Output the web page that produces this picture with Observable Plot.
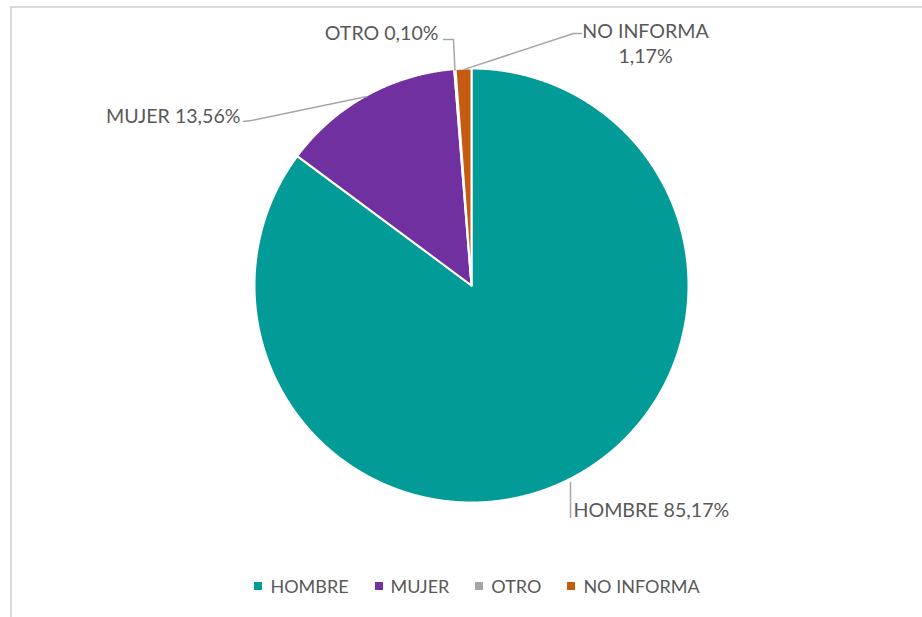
<!DOCTYPE html>
<html>
<head>
<meta charset="utf-8">
<script src="https://cdn.jsdelivr.net/npm/d3@7"></script>
<script src="https://cdn.jsdelivr.net/npm/@observablehq/plot@0.6"></script>
<style>
  html, body { margin: 0; padding: 0; background: #fff; }
  body { position: relative; width: 922px; height: 617px; overflow: hidden; font-family: Lato, "Open Sans", sans-serif; }
  #chart { position: absolute; left: 0; top: 0; }
  .border-top { position: absolute; left: 10px; top: 6px; width: 912px; height: 2px; background: #d9d9d9; z-index: 2; }
  .border-left { position: absolute; left: 10px; top: 6px; width: 2px; height: 611px; background: #d9d9d9; z-index: 2; }
  #legend { position: absolute; left: 0; width: 954px; top: 574px; height: 24px; display: flex; justify-content: center; align-items: center; font-size: 18px; color: #595959; }
  #legend .item { display: flex; align-items: center; margin: 0 13px; white-space: nowrap; }
  #legend .sw { width: 8px; height: 8px; margin-right: 8px; }
</style>
</head>
<body>
<div class="border-top"></div>
<div class="border-left"></div>
<div id="chart"></div>
<div id="legend"></div>
<script>
// ---- data ----
const categories = ["HOMBRE", "MUJER", "OTRO", "NO INFORMA"];
const values = [85.17, 13.56, 0.10, 1.17];
const labels = ["HOMBRE 85,17%", "MUJER 13,56%", "OTRO 0,10%", "NO INFORMA\n1,17%"];
const colors = ["#029b97", "#7030a0", "#a5a5a5", "#c55a11"];

// ---- layout (pixels) ----
const W = 922, H = 565, cx = 471, cy = 285, R = 216;
const ux = px => (px - cx) / R;
const uy = py => (cy - py) / R;

// pie geometry from the values
const arcs = d3.pie().sort(null).value((d, i) => values[i])(categories);
const rOuter = 217 / 216;
const slices = [];
arcs.forEach(a => {
  const cat = a.data;
  slices.push({cat, x: 0, y: 0});
  const n = Math.max(2, Math.ceil((a.endAngle - a.startAngle) / 0.004));
  for (let k = 0; k <= n; k++) {
    const t = a.startAngle + (a.endAngle - a.startAngle) * k / n;
    slices.push({cat, x: rOuter * Math.sin(t), y: rOuter * Math.cos(t)});
  }
  slices.push({cat, x: 0, y: 0});
});

const mid = a => (a.startAngle + a.endAngle) / 2;
const edge = (a, r) => ({x: r * Math.sin(mid(a)), y: r * Math.cos(mid(a))});

// leader line bends and label placement (pixel layout)
const labelLayout = {
  "HOMBRE":     {pts: [[570, 482], [570, 517]], tx: 573, ty: 510, anchor: "start"},
  "MUJER":      {pts: [[251, 120], [243, 121]], tx: 240, ty: 116, anchor: "end", fromEdge: true},
  "OTRO":       {pts: [[453, 39], [443, 39]], tx: 438, ty: 33, anchor: "end", fromEdge: true},
  "NO INFORMA": {pts: [[573, 33], [581, 33]], tx: 645, ty: 42, anchor: "middle", fromEdge: true}
};

const leaders = [];
arcs.forEach(a => {
  const L = labelLayout[a.data];
  if (L.fromEdge) { const e = edge(a, 1.0); leaders.push({cat: a.data, x: e.x, y: e.y}); }
  L.pts.forEach(([px, py]) => leaders.push({cat: a.data, x: ux(px), y: uy(py)}));
});

const labelRows = categories.map((c, i) => ({
  cat: c, text: labels[i],
  x: ux(labelLayout[c].tx), y: uy(labelLayout[c].ty), anchor: labelLayout[c].anchor
}));

const fs = 19.6;
const plot = Plot.plot({
  width: W, height: H,
  marginTop: 0, marginRight: 0, marginBottom: 0, marginLeft: 0,
  style: {background: "transparent", fontFamily: "Lato, 'Open Sans', sans-serif"},
  x: {domain: [ux(0), ux(W)], range: [0, W], axis: null},
  y: {domain: [uy(H), uy(0)], range: [H, 0], axis: null},
  color: {domain: categories, range: colors},
  marks: [
    Plot.line(slices, {x: "x", y: "y", z: "cat", fill: "cat", stroke: "white", strokeWidth: 2, strokeLinejoin: "round", curve: "linear"}),
    Plot.line(leaders, {x: "x", y: "y", z: "cat", stroke: "#a6a6a6", strokeWidth: 1.5, curve: "linear"}),
    Plot.text(labelRows.filter(d => d.anchor === "start"), {x: "x", y: "y", text: "text", textAnchor: "start", fontSize: fs, fill: "#595959", lineAnchor: "middle"}),
    Plot.text(labelRows.filter(d => d.anchor === "end"), {x: "x", y: "y", text: "text", textAnchor: "end", fontSize: fs, fill: "#595959", lineAnchor: "middle"}),
    Plot.text(labelRows.filter(d => d.anchor === "middle"), {x: "x", y: "y", text: "text", textAnchor: "middle", fontSize: fs, fill: "#595959", lineAnchor: "middle", lineHeight: 1.28})
  ]
});
document.getElementById("chart").appendChild(plot);

// legend
const legend = document.getElementById("legend");
categories.forEach((c, i) => {
  const item = document.createElement("div");
  item.className = "item";
  const sw = document.createElement("span");
  sw.className = "sw";
  sw.style.background = colors[i];
  const t = document.createElement("span");
  t.textContent = c;
  item.appendChild(sw); item.appendChild(t);
  legend.appendChild(item);
});
</script>
</body>
</html>
